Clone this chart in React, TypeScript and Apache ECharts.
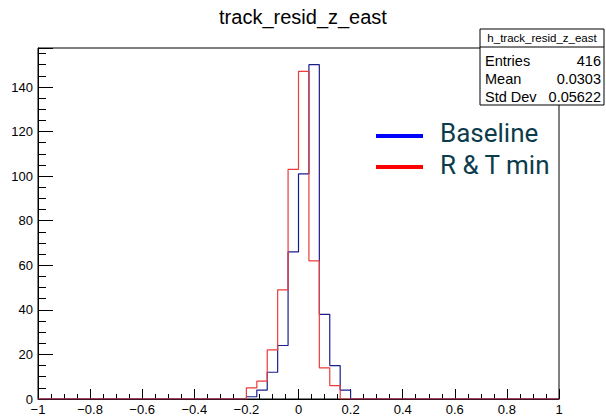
import React, { useEffect, useRef } from "react";
import * as echarts from "echarts";

// Histogram binning: 50 bins over [-1, 1]
const binLow = -1;
const binWidth = 0.04;
const nBins = 50;

// Counts per bin (bins 0..49); nonzero bins lie between -0.2 and 0.2
const baselineCounts = [
  0, 0, 0, 0, 0, 0, 0, 0, 0, 0,
  0, 0, 0, 0, 0, 0, 0, 0, 0, 0,
  1, 4, 12, 24, 66, 101, 150, 38, 15, 4,
  0, 0, 0, 0, 0, 0, 0, 0, 0, 0,
  0, 0, 0, 0, 0, 0, 0, 0, 0, 0,
];
const rtMinCounts = [
  0, 0, 0, 0, 0, 0, 0, 0, 0, 0,
  0, 0, 0, 0, 0, 0, 0, 0, 0, 0,
  5, 8, 22, 49, 103, 147, 62, 14, 6, 0,
  0, 0, 0, 0, 0, 0, 0, 0, 0, 0,
  0, 0, 0, 0, 0, 0, 0, 0, 0, 0,
];

const titleText = "track_resid_z_east";
const statsName = "h_track_resid_z_east";
const statsLabels = ["Entries", "Mean", "Std Dev"];
const statsValues = ["416", "0.0303", "0.05622"];
const legendNames = ["Baseline", "R & T min"];
const legendColors = ["#0000ff", "#ff0000"];
const histColors = ["#1c1c8e", "#ee3b3b"];

function stairs(counts: number[]): [number, number][] {
  const pts: [number, number][] = [];
  for (let i = 0; i < nBins; i++) {
    pts.push([binLow + i * binWidth, counts[i]]);
  }
  pts.push([binLow + nBins * binWidth, counts[nBins - 1]]);
  return pts;
}

function fmtX(v: number): string {
  const r = Math.round(v * 10) / 10;
  if (r === 0) return "0";
  return (r < 0 ? "\u2212" : "") + String(Math.abs(r));
}

export default function App() {
  const ref = useRef<HTMLDivElement>(null);
  useEffect(() => {
    if (!ref.current) return;
    const chart = echarts.init(ref.current, undefined, { renderer: "svg" });
    const font = "Liberation Sans, Arial, sans-serif";
    const gl = 38, gr = 559, gt = 48, gb = 400;
    chart.setOption({
      animation: false,
      backgroundColor: "#ffffff",
      title: {
        text: titleText,
        left: "center",
        top: 2,
        textStyle: { fontFamily: font, fontSize: 20, fontWeight: "normal", color: "#000" },
      },
      grid: {
        left: gl,
        right: 606 - gr,
        top: gt,
        bottom: 416 - gb,
        show: true,
        borderColor: "#000",
        borderWidth: 1,
        backgroundColor: "transparent",
      },
      xAxis: {
        type: "value",
        min: -1,
        max: 1,
        interval: 0.2,
        axisLine: { show: true, onZero: false, lineStyle: { color: "#000", width: 1 } },
        axisTick: { show: true, inside: true, length: 10, lineStyle: { color: "#000" } },
        minorTick: { show: true, splitNumber: 4, length: 5, lineStyle: { color: "#000" } },
        splitLine: { show: false },
        axisLabel: {
          fontFamily: font,
          fontSize: 13,
          color: "#000",
          margin: 4,
          formatter: (v: number) => fmtX(v),
        },
      },
      yAxis: {
        type: "value",
        min: 0,
        max: 157.5,
        interval: 20,
        axisLine: { show: true, onZero: false, lineStyle: { color: "#000", width: 1 } },
        axisTick: { show: true, inside: true, length: 15, lineStyle: { color: "#000" } },
        minorTick: { show: true, splitNumber: 4, length: 8, lineStyle: { color: "#000" } },
        splitLine: { show: false },
        axisLabel: {
          fontFamily: font,
          fontSize: 13,
          color: "#000",
          margin: 5,
          showMaxLabel: false,
          formatter: (v: number) => (v % 20 === 0 ? String(v) : ""),
        },
      },
      series: [
        {
          name: legendNames[0],
          type: "line",
          step: "end",
          data: stairs(baselineCounts),
          showSymbol: false,
          lineStyle: { color: histColors[0], width: 1.2 },
          z: 2,
        },
        {
          name: legendNames[1],
          type: "line",
          step: "end",
          data: stairs(rtMinCounts),
          showSymbol: false,
          lineStyle: { color: histColors[1], width: 1.2 },
          z: 3,
        },
      ],
      graphic: [
        // stats box
        {
          type: "rect",
          shape: { x: 480, y: 29, width: 124, height: 76 },
          style: { fill: "#fff", stroke: "#000", lineWidth: 1 },
          z: 10,
        },
        {
          type: "line",
          shape: { x1: 480, y1: 47, x2: 604, y2: 47 },
          style: { stroke: "#000", lineWidth: 1 },
          z: 11,
        },
        {
          type: "text",
          x: 542,
          y: 38,
          style: {
            text: statsName,
            fontFamily: font,
            fontSize: 11.5,
            fill: "#000",
            align: "center",
            verticalAlign: "middle",
          },
          z: 11,
        },
        ...statsLabels.map((s, i) => ({
          type: "text",
          x: 485,
          y: 61 + i * 18,
          style: {
            text: s,
            fontFamily: font,
            fontSize: 14.5,
            fill: "#000",
            align: "left",
            verticalAlign: "middle",
          },
          z: 11,
        })),
        ...statsValues.map((s, i) => ({
          type: "text",
          x: 601,
          y: 61 + i * 18,
          style: {
            text: s,
            fontFamily: font,
            fontSize: 14.5,
            fill: "#000",
            align: "right",
            verticalAlign: "middle",
          },
          z: 11,
        })),
        // legend
        ...legendNames.map((n, i) => ({
          type: "line",
          shape: { x1: 376, y1: 136 + i * 31, x2: 423, y2: 136 + i * 31 },
          style: { stroke: legendColors[i], lineWidth: 4 },
          z: 11,
        })),
        ...legendNames.map((n, i) => ({
          type: "text",
          x: 440,
          y: 133 + i * 32,
          style: {
            text: n,
            fontFamily: "Roboto, sans-serif",
            fontSize: 26,
            fill: "#0c3c4c",
            align: "left",
            verticalAlign: "middle",
          },
          z: 11,
        })),
      ],
    });
    return () => chart.dispose();
  }, []);
  return <div ref={ref} style={{ width: 606, height: 416, position: "absolute", left: 0, top: 0 }} />;
}
